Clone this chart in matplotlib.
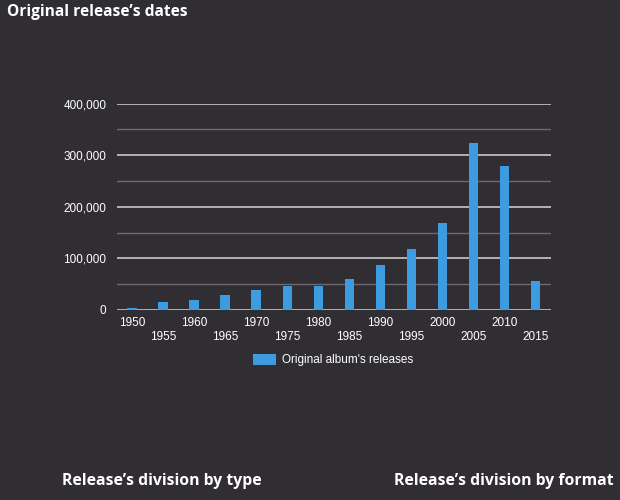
import matplotlib
matplotlib.use("Agg")
import matplotlib.pyplot as plt
from matplotlib.ticker import FuncFormatter, MultipleLocator

years = [1950, 1955, 1960, 1965, 1970, 1975, 1980, 1985, 1990, 1995, 2000, 2005, 2010, 2015]
releases = [3000, 15500, 20000, 29500, 39000, 46000, 47000, 60500, 86500, 119000, 168000, 324000, 280000, 57000]
series_name = "Original album's releases"
title = "Original release\u2019s dates"
sub_left = "Release\u2019s division by type"
sub_right = "Release\u2019s division by format"

BG = "#312e33"
BAR = "#3d9be0"

fig = plt.figure(figsize=(6.2, 5.0), dpi=100, facecolor=BG)
W, H = 620, 500
L, R, T, B = 116.7, 551, 103.7, 310
ax = fig.add_axes([L / W, 1 - B / H, (R - L) / W, (B - T) / H], facecolor=BG)

x = list(range(len(years)))
ax.bar(x, releases, width=0.31, color=BAR, zorder=3, label=series_name)
ax.set_xlim(-0.5, len(years) - 0.5)
ax.set_ylim(0, 400000)

ax.yaxis.set_major_locator(MultipleLocator(100000))
ax.yaxis.set_minor_locator(MultipleLocator(50000))
ax.yaxis.set_major_formatter(FuncFormatter(lambda v, p: f"{int(v):,}"))
ax.grid(axis="y", which="major", color="#c8c8c8", linewidth=1.2, zorder=1)
ax.grid(axis="y", which="minor", color="#6e6b70", linewidth=1.0, zorder=1)
ax.grid(axis="x", visible=False)
for s in ax.spines.values():
    s.set_visible(False)
ax.tick_params(axis="y", which="both", length=0, pad=7.5, labelcolor="white", labelsize=8.5)
ax.set_xticks(x)
ax.set_xticklabels([])
ax.tick_params(axis="x", length=0)
for lab in ax.get_yticklabels():
    lab.set_family("Liberation Sans")

# staggered year labels
for i, yr in enumerate(years):
    off = 323 if i % 2 == 0 else 337
    ax.annotate(str(yr), xy=(i, 0), xycoords=("data", "axes fraction"),
                xytext=(0, -(off - B) * 0.72), textcoords="offset points",
                color="white", fontsize=8.5, ha="center", va="center", family="Liberation Sans")

leg = ax.legend(loc="center", bbox_to_anchor=(333 / W, 1 - 360 / H), bbox_transform=fig.transFigure,
                frameon=False, handlelength=2.0, handleheight=1.1, handletextpad=0.5,
                prop={"family": "Liberation Sans", "size": 8.5})
for t in leg.get_texts():
    t.set_color("white")

fig.text(7 / W, 1 - 12 / H, title, color="white", fontsize=11.2, fontweight="bold",
         family="Open Sans", ha="left", va="center")
fig.text(62 / W, 1 - 481 / H, sub_left, color="white", fontsize=11.3, fontweight="bold",
         family="Open Sans", ha="left", va="center")
fig.text(614 / W, 1 - 481 / H, sub_right, color="white", fontsize=11.3, fontweight="bold",
         family="Open Sans", ha="right", va="center")

fig.savefig("out.png", dpi=100, facecolor=BG)
